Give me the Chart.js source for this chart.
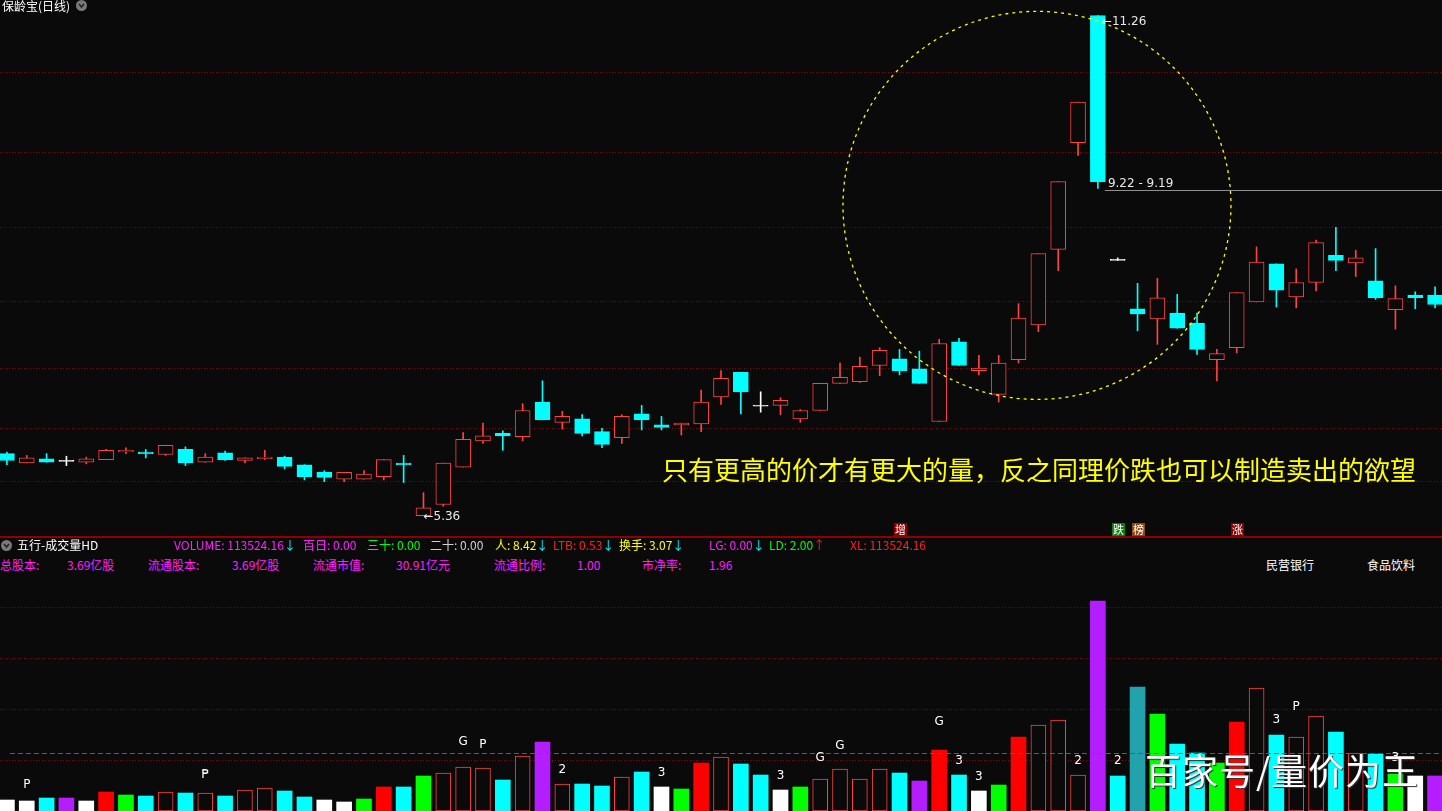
<!DOCTYPE html>
<html lang="zh-CN">
<head>
<meta charset="UTF-8">
<title>保龄宝(日线)</title>
<script src="https://cdn.jsdelivr.net/npm/chart.js"></script>
<style>
  html, body { margin: 0; padding: 0; }
  body {
    width: 1442px; height: 811px; overflow: hidden; position: relative;
    background: #0a0a0a; font-family: "Noto Sans CJK SC", sans-serif;
  }
  .wrap { position: absolute; left: -3px; width: 1448px; }
  #priceWrap { top: 0; height: 537px; }
  #volWrap { top: 580px; height: 231px; }
  .t { position: absolute; font-size: 12px; line-height: 14px; white-space: nowrap; }
  .sep { position: absolute; left: 0; top: 536px; width: 1442px; height: 2px; background: #900000; }
  .knob { position: absolute; width: 11px; height: 11px; border-radius: 50%; background: #7a7a7a; }
  .knob svg { display: block; }
  .mag { color: #ff20ff; }
  .dn { color: #00ffff; }
  .note { position: absolute; left: 662px; top: 454px; font-size: 26px; line-height: 30px; color: #ffff00; white-space: nowrap; }
  .mark { position: absolute; left: 1145px; top: 748px; font-size: 36px; line-height: 42px; color: #ffffff;
          white-space: nowrap; letter-spacing: 1px; text-shadow: 1px 1px 1px #333; }
</style>
</head>
<body>
  <div class="wrap" id="priceWrap"><canvas id="priceChart"></canvas></div>
  <div class="wrap" id="volWrap"><canvas id="volChart"></canvas></div>

  <!-- 主图标题 -->
  <div class="t" style="left:2px;top:-1px;color:#fff;">保龄宝(日线)</div>
  <div class="knob" style="left:76px;top:0px;"><svg width="11" height="11"><polyline points="3,4 5.5,7 8,4" fill="none" stroke="#222" stroke-width="1.5"/></svg></div>

  <div class="note">只有更高的价才有更大的量，反之同理价跌也可以制造卖出的欲望</div>
  <div class="sep"></div>

  <!-- 副图指标栏 -->
  <div class="knob" style="left:1px;top:540px;"><svg width="11" height="11"><polyline points="3,4 5.5,7 8,4" fill="none" stroke="#222" stroke-width="1.5"/></svg></div>
  <div class="t" style="left:17px;top:538px;color:#fff;">五行-成交量HD</div>
  <div class="t mag" style="left:174px;top:538px;">VOLUME: 113524.16<span class="dn">↓</span></div>
  <div class="t mag" style="left:303px;top:538px;">百日: 0.00</div>
  <div class="t" style="left:367px;top:538px;color:#00ff00;">三十: 0.00</div>
  <div class="t" style="left:430px;top:538px;color:#d0d0d0;">二十: 0.00</div>
  <div class="t" style="left:495px;top:538px;color:#ffff00;">人: 8.42<span class="dn">↓</span></div>
  <div class="t" style="left:553px;top:538px;color:#ff2020;">LTB: 0.53<span class="dn">↓</span></div>
  <div class="t" style="left:619px;top:538px;color:#ffff00;">换手: 3.07<span class="dn">↓</span></div>
  <div class="t mag" style="left:709px;top:538px;">LG: 0.00<span class="dn">↓</span></div>
  <div class="t" style="left:769px;top:538px;color:#00ff00;">LD: 2.00<span style="color:#ff2020;">↑</span></div>
  <div class="t" style="left:850px;top:538px;color:#ff2020;">XL: 113524.16</div>

  <div class="t mag" style="left:0px;top:558px;">总股本:</div>
  <div class="t mag" style="left:67px;top:558px;">3.69亿股</div>
  <div class="t mag" style="left:148px;top:558px;">流通股本:</div>
  <div class="t mag" style="left:232px;top:558px;">3.69亿股</div>
  <div class="t mag" style="left:313px;top:558px;">流通市值:</div>
  <div class="t mag" style="left:396px;top:558px;">30.91亿元</div>
  <div class="t mag" style="left:494px;top:558px;">流通比例:</div>
  <div class="t mag" style="left:577px;top:558px;">1.00</div>
  <div class="t mag" style="left:642px;top:558px;">市净率:</div>
  <div class="t mag" style="left:709px;top:558px;">1.96</div>
  <div class="t" style="left:1266px;top:558px;color:#fff;">民营银行</div>
  <div class="t" style="left:1367px;top:558px;color:#fff;">食品饮料</div>

  <div class="mark">百家号/量价为王</div>

<script>
  // 日K数据
  const opens  = [6.09, 5.98, 6.03, 6.00, 5.99, 6.02, 6.11, 6.11, 6.08, 6.14,
                  5.99, 6.10, 6.01, 6.03, 6.05, 5.96, 5.87, 5.79, 5.79, 5.82,
                  5.98, 5.36, 5.49, 5.93, 6.24, 6.33, 6.29, 6.70, 6.46, 6.50,
                  6.35, 6.28, 6.56, 6.43, 6.43, 6.44, 6.76, 7.05, 6.65, 6.66,
                  6.50, 6.60, 6.92, 6.94, 7.13, 7.21, 7.09, 6.47, 7.41, 7.07,
                  6.79, 7.20, 7.61, 8.50, 9.76, 11.26, 8.37, 7.80, 7.68, 7.75,
                  7.63, 7.20, 7.34, 7.88, 8.33, 7.94, 8.11, 8.43, 8.34, 8.13,
                  7.79, 7.96, 7.96];
  const highs  = [6.11, 6.07, 6.09, 6.06, 6.05, 6.14, 6.16, 6.14, 6.19, 6.17,
                  6.09, 6.12, 6.04, 6.13, 6.06, 5.96, 5.89, 5.87, 5.89, 6.02,
                  6.07, 5.63, 5.98, 6.34, 6.45, 6.36, 6.68, 6.95, 6.59, 6.55,
                  6.39, 6.55, 6.66, 6.53, 6.45, 6.84, 7.07, 7.05, 6.82, 6.75,
                  6.61, 6.92, 7.16, 7.23, 7.34, 7.32, 7.30, 7.44, 7.45, 7.25,
                  7.25, 7.86, 8.45, 9.30, 10.24, 11.26, 8.40, 8.10, 8.16, 7.97,
                  7.75, 7.32, 7.99, 8.53, 8.33, 8.27, 8.61, 8.76, 8.49, 8.51,
                  8.07, 8.00, 8.06];
  const lows   = [5.96, 5.98, 5.99, 5.95, 5.97, 6.02, 6.09, 6.04, 6.07, 5.95,
                  5.99, 6.01, 5.98, 6.02, 5.91, 5.78, 5.76, 5.76, 5.79, 5.78,
                  5.75, 5.36, 5.47, 5.93, 6.21, 6.13, 6.24, 6.49, 6.38, 6.30,
                  6.16, 6.21, 6.37, 6.37, 6.31, 6.35, 6.67, 6.56, 6.58, 6.55,
                  6.46, 6.60, 6.92, 6.93, 7.01, 7.02, 6.92, 6.47, 7.13, 7.02,
                  6.70, 7.16, 7.53, 8.25, 9.61, 9.22, 8.37, 7.54, 7.38, 7.57,
                  7.26, 6.95, 7.28, 7.88, 7.82, 7.81, 8.01, 8.25, 8.18, 7.91,
                  7.56, 7.80, 7.81];
  const closes = [6.01, 6.04, 5.99, 6.00, 6.03, 6.13, 6.13, 6.09, 6.19, 5.98,
                  6.05, 6.02, 6.04, 6.05, 5.94, 5.82, 5.81, 5.87, 5.85, 6.02,
                  5.96, 5.45, 5.98, 6.26, 6.30, 6.30, 6.60, 6.49, 6.53, 6.33,
                  6.20, 6.53, 6.49, 6.40, 6.45, 6.70, 6.98, 6.82, 6.65, 6.72,
                  6.60, 6.92, 6.99, 7.12, 7.31, 7.07, 6.92, 7.39, 7.13, 7.10,
                  7.16, 7.69, 8.45, 9.30, 10.24, 9.30, 8.37, 7.74, 7.93, 7.57,
                  7.32, 7.27, 7.99, 8.35, 8.02, 8.11, 8.58, 8.37, 8.40, 7.93,
                  7.92, 7.93, 7.85];

  // 成交量（手）与五行分类
  const volumes = [35600, 32400, 42100, 42100, 32400, 61600, 51800, 48600, 61600, 58300,
                   58300, 48600, 68000, 74500, 64800, 45400, 35600, 29200, 38900, 77800,
                   77800, 113400, 123100, 142600, 139300, 100400, 178200, 223600, 87500, 87500,
                   81000, 110200, 126400, 77800, 71300, 155500, 175000, 152300, 116600, 68000,
                   77800, 103700, 136100, 103700, 136100, 123100, 97200, 197600, 116600, 64800,
                   84200, 239800, 278600, 294800, 116600, 680400, 113400, 401800, 314300, 217100,
                   187900, 155500, 288400, 398500, 246200, 239800, 307800, 256000, 187900, 184700,
                   119900, 113400, 113524];
  const volKind = ['金', '金', '水', '土', '金', '火', '木', '水', '阳', '水',
                   '阳', '水', '阳', '阳', '水', '水', '金', '金', '木', '火',
                   '水', '木', '阳', '阳', '阳', '水', '阳', '土', '阳', '水',
                   '水', '阳', '水', '金', '木', '火', '阳', '水', '水', '金',
                   '木', '阳', '阳', '阳', '阳', '水', '土', '火', '水', '金',
                   '木', '火', '阳', '阳', '阳', '土', '水', '青', '木', '水',
                   '水', '木', '火', '阳', '水', '阳', '阳', '水', '阳', '水',
                   '木', '金', '土'];

  // 量柱上的字母标记：位置 / 文字 / 高度（手）
  const markIdx   = [1, 10, 23, 24, 28, 33, 39, 41, 42, 47, 48, 49, 54, 56, 64, 65, 70];
  const markText  = ['P', '₱', 'G', 'P', '2', '3', '3', 'G', 'G', 'G', '3', '3', '2', '2', '3', 'P', '3'];
  const markLevel = [84200, 116600, 223600, 213800, 132800, 123100, 113400, 171700, 210600,
                     288400, 162000, 110200, 162000, 162000, 294800, 337000, 171700];

  // K线下方的信号小方块
  const signalIdx  = [45, 56, 57, 62];
  const signalText = ['增', '跌', '榜', '涨'];

  // 网格与参考线
  const priceGrid = [10.59, 9.64, 8.76, 7.88, 7.10, 6.39, 5.76];
  const volGrid   = [165000, 330000, 495000, 660000];
  const volRefLine = 188000;
  const rangeText = [9.22, 9.19];

  const days = opens.map((_, i) => String(i + 1));

  const BG = '#0a0a0a';
  const UP = '#ff4242';
  const DOWN = '#00ffff';
  const FLAT = '#ffffff';
  const kindStyle = {
    '金': { fill: '#ffffff', line: '#ffffff', w: 0 },
    '木': { fill: '#00ff00', line: '#00ff00', w: 0 },
    '水': { fill: '#00ffff', line: '#00ffff', w: 0 },
    '火': { fill: '#ff0000', line: '#ff0000', w: 0 },
    '土': { fill: '#b41eff', line: '#b41eff', w: 0 },
    '青': { fill: '#22a2aa', line: '#22a2aa', w: 0 },
    '阳': { fill: BG,        line: '#ff4242', w: 1 }
  };

  function candleColor(i) {
    if (closes[i] > opens[i]) return UP;
    if (closes[i] < opens[i]) return DOWN;
    return FLAT;
  }

  // 价格区叠加：圆圈、最高最低、价格线、信号块
  const circleAt = { index: 51.93, price: 9.02, radius: 194 };

  const priceOverlay = {
    id: 'priceOverlay',
    afterDatasetsDraw(chart) {
      const { ctx, chartArea } = chart;
      const x = chart.scales.x, y = chart.scales.y;
      ctx.save();

      // 黄色虚线圆
      ctx.strokeStyle = '#ffff00';
      ctx.lineWidth = 1.3;
      ctx.setLineDash([3, 4]);
      ctx.beginPath();
      ctx.arc(x.getPixelForValue(circleAt.index), y.getPixelForValue(circleAt.price), circleAt.radius, 0, Math.PI * 2);
      ctx.stroke();
      ctx.setLineDash([]);
      ctx.lineWidth = 1;

      ctx.font = '12px "DejaVu Sans"';
      ctx.fillStyle = '#e8e8e8';
      ctx.textAlign = 'left';
      ctx.textBaseline = 'middle';

      // 最低价、最高价
      const lo = Math.min(...lows), hi = Math.max(...highs);
      const loIdx = lows.indexOf(lo), hiIdx = highs.indexOf(hi);
      ctx.fillText('←' + lo.toFixed(2), x.getPixelForValue(loIdx), y.getPixelForValue(lo) + 1);
      ctx.fillText('←' + hi.toFixed(2), x.getPixelForValue(hiIdx) + 4, y.getPixelForValue(hi) + 6);

      // 9.22 - 9.19 水平线
      const ly = Math.round(y.getPixelForValue(rangeText[1])) - 0.5;
      const lx = x.getPixelForValue(hiIdx) + 7;
      ctx.strokeStyle = '#909090';
      ctx.beginPath();
      ctx.moveTo(lx, ly);
      ctx.lineTo(chartArea.right, ly);
      ctx.stroke();
      ctx.textBaseline = 'alphabetic';
      ctx.fillText(rangeText[0].toFixed(2) + ' - ' + rangeText[1].toFixed(2), lx + 3, ly - 4);

      // 信号块
      const boxColor = { '增': '#8b0000', '跌': '#0b7d0b', '榜': '#8b4a14', '涨': '#8b0000' };
      ctx.font = '11px "Noto Sans CJK SC"';
      ctx.textAlign = 'center';
      ctx.textBaseline = 'middle';
      signalIdx.forEach((idx, k) => {
        const cx = x.getPixelForValue(idx);
        ctx.fillStyle = boxColor[signalText[k]];
        ctx.fillRect(Math.round(cx) - 6, chartArea.bottom - 14, 13, 13);
        ctx.fillStyle = '#ffffff';
        ctx.fillText(signalText[k], Math.round(cx) + 0.5, chartArea.bottom - 7.5);
      });
      ctx.restore();
    }
  };

  const volOverlay = {
    id: 'volOverlay',
    afterDatasetsDraw(chart) {
      const { ctx, chartArea } = chart;
      const x = chart.scales.x, y = chart.scales.y;
      ctx.save();
      const ry = Math.round(y.getPixelForValue(volRefLine)) + 0.5;
      ctx.strokeStyle = '#e02424';
      ctx.lineWidth = 1;
      ctx.setLineDash([5, 3]);
      ctx.beginPath();
      ctx.moveTo(x.getPixelForValue(0) + 3, ry);
      ctx.lineTo(chartArea.right, ry);
      ctx.stroke();
      ctx.setLineDash([]);

      ctx.font = '12px "DejaVu Sans"';
      ctx.fillStyle = '#ffffff';
      ctx.textAlign = 'center';
      ctx.textBaseline = 'middle';
      markIdx.forEach((idx, k) => {
        ctx.fillText(markText[k], x.getPixelForValue(idx), y.getPixelForValue(markLevel[k]));
      });
      ctx.restore();
    }
  };

  const hiddenX = { display: false, grid: { display: false } };
  function gridY(values, min, max) {
    return {
      display: true,
      min: min, max: max,
      position: 'right',
      ticks: { display: false },
      grid: { color: '#8c0000', lineWidth: 1, drawTicks: false },
      border: { display: false, dash: [1, 2] },
      afterBuildTicks: axis => { axis.ticks = values.map(v => ({ value: v })); }
    };
  }

  const common = {
    responsive: true,
    maintainAspectRatio: false,
    animation: false,
    devicePixelRatio: 1,
    layout: { padding: 0 },
    plugins: { legend: { display: false }, tooltip: { enabled: false } }
  };

  new Chart(document.getElementById('priceChart'), {
    type: 'bar',
    data: {
      labels: days,
      datasets: [{
        label: '实体',
        data: opens.map((o, i) => [o, closes[i]]),
        backgroundColor: opens.map((o, i) => candleColor(i) === UP ? BG : candleColor(i)),
        borderColor: opens.map((o, i) => candleColor(i)),
        borderWidth: 1,
        borderSkipped: false,
        barThickness: 15,
        minBarLength: 1,
        grouped: false
      }, {
        label: '影线',
        data: lows.map((l, i) => [l, highs[i]]),
        backgroundColor: lows.map((l, i) => candleColor(i)),
        borderWidth: 0,
        barThickness: 1,
        grouped: false
      }]
    },
    options: Object.assign({}, common, {
      scales: { x: hiddenX, y: gridY(priceGrid, 5.107, 11.443) }
    }),
    plugins: [priceOverlay]
  });

  new Chart(document.getElementById('volChart'), {
    type: 'bar',
    data: {
      labels: days,
      datasets: [{
        label: '成交量',
        data: volumes,
        backgroundColor: volKind.map(k => kindStyle[k].fill),
        borderColor: volKind.map(k => kindStyle[k].line),
        borderWidth: volKind.map(k => kindStyle[k].w),
        borderSkipped: false,
        barThickness: 15
      }]
    },
    options: Object.assign({}, common, {
      scales: { x: hiddenX, y: gridY(volGrid, 0, 748400) }
    }),
    plugins: [volOverlay]
  });
</script>
</body>
</html>
